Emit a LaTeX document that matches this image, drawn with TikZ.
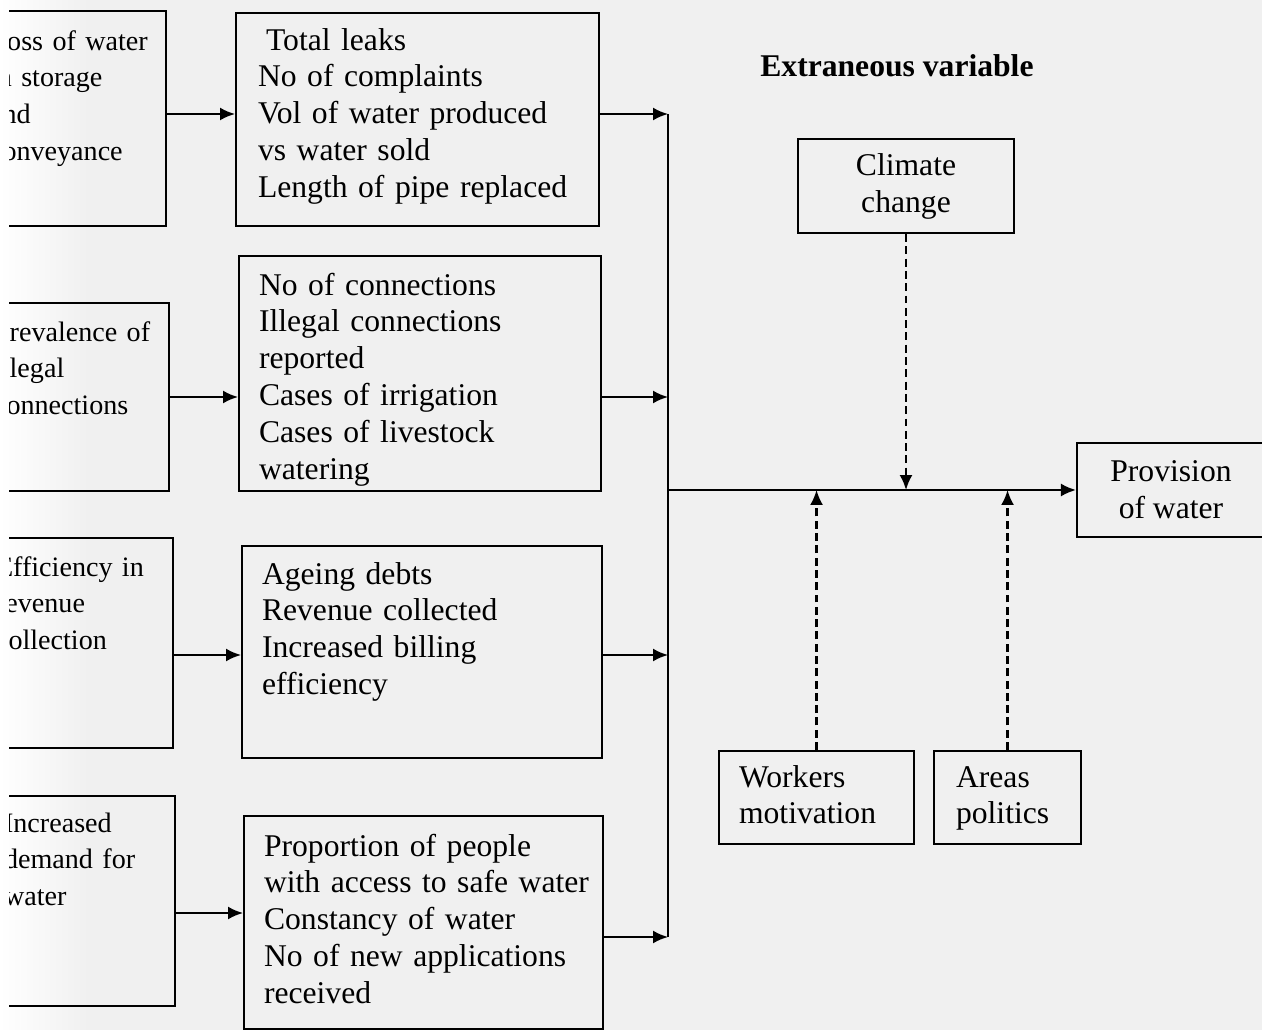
\documentclass[tikz,border=0pt]{standalone}
\usepackage{fontspec}
\setmainfont{Liberation Serif}
\usetikzlibrary{arrows.meta,calc}

\definecolor{paper}{gray}{0.94}

\tikzset{
  box/.style n args={4}{draw, line width=1.2pt, anchor=north west, inner sep=0pt,
    text width=#1, text height=#2, text depth=#3,
    execute at begin node={\setlength{\leftskip}{#4}\setlength{\rightskip}{-1cm plus 1fil}}},
  lbox/.style={font=\fontsize{16}{21}\selectfont},
  cbox/.style={draw, line width=1.2pt, align=center, inner sep=0pt},
  arr/.style={line width=1.2pt, -{Latex[length=0.3cm,width=0.26cm]}},
  darr/.style={arr, dash pattern=on 4.5pt off 2.5pt},
  bus/.style={line width=1.2pt}
}

\begin{document}
\begin{tikzpicture}[x=0.02cm, y=-0.02cm, font=\fontsize{18}{21}\selectfont]

  \useasboundingbox (0,0) rectangle (1262,1030);
  \fill[paper] (0,0) rectangle (1262,1030);
  \shade[left color=white, right color=paper] (0,0) rectangle (90,1030);

  \begin{scope}
  \clip (9,0) rectangle (1262,1030);

  % variables and their indicators
  \node[box={4.5cm}{0.78cm}{3.52cm}{0.98cm}, lbox] (loss) at (-60,10)
    {Loss of water\\in storage\\and\\conveyance};
  \node[box={7.26cm}{0.74cm}{3.52cm}{0.44cm}] (leaks) at (235,12)
    {\hspace*{0.16cm}Total leaks\\No of complaints\\Vol of water produced\\vs water sold\\Length of pipe replaced};

  \node[box={4.56cm}{0.76cm}{3.0cm}{1.06cm}, lbox] (illegal) at (-60,302)
    {Prevalence of\\illegal\\connections};
  \node[box={7.24cm}{0.78cm}{3.92cm}{0.4cm}] (conn) at (238,255)
    {No of connections\\Illegal connections\\reported\\Cases of irrigation\\Cases of livestock\\watering};

  \node[box={4.64cm}{0.76cm}{3.44cm}{1.1cm}, lbox] (revenue) at (-60,537)
    {Efficiency in\\revenue\\collection};
  \node[box={7.2cm}{0.76cm}{3.48cm}{0.4cm}] (debts) at (241,545)
    {Ageing debts\\Revenue collected\\Increased billing\\efficiency};

  \node[box={4.68cm}{0.72cm}{3.48cm}{1.26cm}, lbox] (demand) at (-60,795)
    {Increased\\demand for\\water};
  \node[box={7.18cm}{0.8cm}{3.46cm}{0.4cm}] (access) at (243,815)
    {Proportion of people\\with access to safe water\\Constancy of water\\No of new applications\\received};

  % extraneous variables
  \node[anchor=base west, inner sep=0pt, font=\fontsize{18}{21}\selectfont\bfseries] (extra) at (760,77)
    {Extraneous variable};
  \node[cbox, minimum width=4.32cm, minimum height=1.88cm] (climate) at (906,186)
    {Climate\\change};
  \node[box={3.9cm}{0.72cm}{1.14cm}{0.4cm}] (workers) at (718,750)
    {Workers\\motivation};
  \node[box={2.94cm}{0.72cm}{1.14cm}{0.44cm}] (areas) at (933,750)
    {Areas\\politics};

  % dependent variable
  \node[cbox, minimum width=3.76cm, minimum height=1.88cm] (water) at (1171,490)
    {Provision\\of water};

  \coordinate (r1) at (0,114);
  \coordinate (r2) at (0,397);
  \coordinate (r3) at (0,655);
  \coordinate (r4) at (0,913);
  \coordinate (r5) at (0,937);
  \coordinate (join) at (668,490);

  \draw[arr] (loss.east |- r1) -- (leaks.west |- r1);
  \draw[arr] (illegal.east |- r2) -- (conn.west |- r2);
  \draw[arr] (revenue.east |- r3) -- (debts.west |- r3);
  \draw[arr] (demand.east |- r4) -- (access.west |- r4);

  \draw[arr] (leaks.east |- r1) -- (join |- r1);
  \draw[arr] (conn.east |- r2) -- (join |- r2);
  \draw[arr] (debts.east |- r3) -- (join |- r3);
  \draw[arr] (access.east |- r5) -- (join |- r5);
  \draw[bus] (join |- r1) -- (join |- r5);
  \draw[arr] (join) -- (water.west);

  \draw[darr] (climate.south) -- (climate.south |- join);
  \draw[darr] (workers.north) -- (workers.north |- join);
  \draw[darr] (areas.north) -- (areas.north |- join);

  \end{scope}
\end{tikzpicture}
\end{document}
